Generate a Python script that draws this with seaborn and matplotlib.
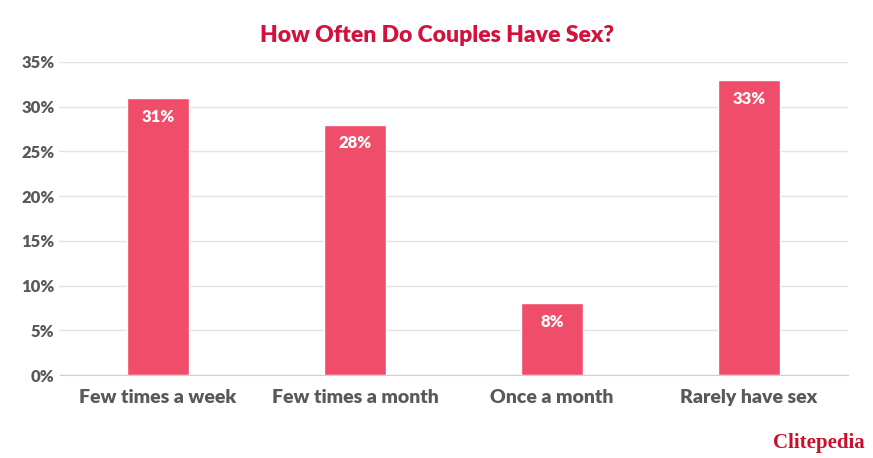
import matplotlib
matplotlib.use("Agg")
import matplotlib.pyplot as plt
import seaborn as sns
import pandas as pd

categories = ["Few times a week", "Few times a month", "Once a month", "Rarely have sex"]
values = [31, 28, 8, 33]
yticks = [0, 5, 10, 15, 20, 25, 30, 35]

sns.set_style("white")
plt.rcParams["font.family"] = ["Lato", "DejaVu Sans"]

df = pd.DataFrame({"cat": categories, "val": values})

fig = plt.figure(figsize=(8.73, 4.58), dpi=100)
ax = fig.add_axes([59.5 / 873, 1 - 375 / 458, 788 / 873, 313 / 458])
sns.barplot(data=df, x="cat", y="val", color="#f04d6b", saturation=1, width=0.31, ax=ax)

ax.set_ylim(0, 35)
ax.set_xlim(-0.5, 3.5)
ax.set_yticks(yticks)
ax.set_yticklabels([f"{t}%" for t in yticks], fontsize=12, color="#595959", fontweight="heavy")
ax.set_xticks(range(len(categories)))
ax.set_xticklabels(categories, fontsize=14, color="#595959", fontweight="heavy")
ax.tick_params(axis="both", length=0)
ax.tick_params(axis="x", pad=10)
ax.grid(axis="y", color="#e3e3e3", linewidth=1)
ax.set_axisbelow(True)
ax.set_xlabel("")
ax.set_ylabel("")
for s in ["top", "right", "left"]:
    ax.spines[s].set_visible(False)
ax.spines["bottom"].set_color("#d0d0d0")

for i, v in enumerate(values):
    ax.text(i, v - 1.2, f"{v}%", ha="center", va="top", color="white",
            fontsize=12, fontweight="heavy")

fig.text(0.5, 1 - 35 / 458, "How Often Do Couples Have Sex?", ha="center", va="center",
         fontsize=16.5, fontweight="heavy", color="#d4103c")
fig.text(0.99, 1 - 443 / 458, "Clitepedia", ha="right", va="center", fontsize=15,
         fontweight="bold", color="#c8102e", family=["Liberation Serif", "DejaVu Serif"])

fig.savefig("out.png", dpi=100, facecolor="white")
